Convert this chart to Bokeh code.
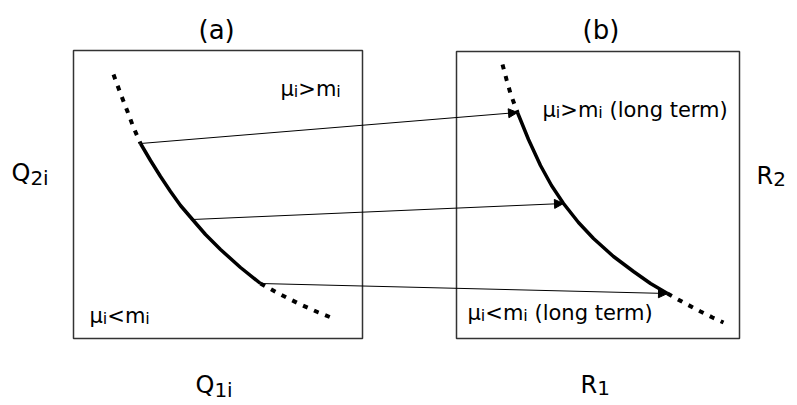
from bokeh.plotting import figure
from bokeh.models import Range1d, ColumnDataSource, Arrow, NormalHead
from bokeh.core.properties import value, field
from bokeh.embed import file_html
from bokeh.resources import INLINE

W, H = 797, 405

# ---- data (diagram coordinates, y grows downward) ----
box_left = [73, 456]
box_right = [362, 739]
box_top = [50, 51]
box_bottom = [338, 338]

# curve in panel (a): dotted upper part, solid part, dotted lower part
a_dot1_x = [113, 120, 127, 133, 140]
a_dot1_y = [74, 93, 111, 127, 143]
a_sol_x = [140, 150, 160, 170, 180, 192, 205, 220, 240, 260]
a_sol_y = [143, 160, 176, 191, 205, 219, 234, 249, 267, 283]
a_dot2_x = [260, 280, 300, 318, 333]
a_dot2_y = [283, 294, 304, 312, 318]

# curve in panel (b)
b_dot1_x = [502, 506, 510, 514, 517]
b_dot1_y = [64, 79, 93, 104, 112]
b_sol_x = [517, 528, 540, 551, 563, 578, 593, 613, 633, 650, 667]
b_sol_y = [112, 139, 165, 185, 203, 222, 238, 256, 271, 283, 293]
b_dot2_x = [667, 683, 700, 712, 723]
b_dot2_y = [293, 302, 311, 317, 322]

# mapping arrows from (a) to (b)
arr_x0 = [140, 192, 260]
arr_y0 = [143, 219, 283]
arr_x1 = [517, 563, 667]
arr_y1 = [112, 203, 293]

# texts: list of (text, is_subscript)
panel_titles = ["(a)", "(b)"]
axis_labels = [
    [("Q", 0), ("2i", 1)],
    [("R", 0), ("2", 1)],
    [("Q", 0), ("1i", 1)],
    [("R", 0), ("1", 1)],
]
inner_labels = [
    [("μ", 0), ("i", 1), (">m", 0), ("i", 1)],
    [("μ", 0), ("i", 1), ("<m", 0), ("i", 1)],
    [("μ", 0), ("i", 1), (">m", 0), ("i", 1), (" (long term)", 0)],
    [("μ", 0), ("i", 1), ("<m", 0), ("i", 1), (" (long term)", 0)],
]

# ---- layout of texts ----
title_pos = [(198, 29), (582, 29)]
axis_pos = [(11, 172), (756, 175), (195, 384), (580, 384)]
inner_pos = [(280, 88), (89, 315), (542, 109), (467, 312)]

ADV = {'μ': 0.635, 'i': 0.278, '>': 0.838, '<': 0.838, 'm': 0.974, ' ': 0.318,
       '(': 0.390, ')': 0.390, 'l': 0.278, 'o': 0.612, 'n': 0.634, 'g': 0.635,
       't': 0.392, 'e': 0.615, 'r': 0.411, 'Q': 0.787, 'R': 0.695, '1': 0.636,
       '2': 0.636, 'a': 0.613, 'b': 0.635}


def width(s, size):
    return sum(ADV.get(c, 0.6) for c in s) * size


tx, ty, tt, ts = [], [], [], []


def add_pieces(x0, y0, segs, main, sub, off):
    x = x0
    for s, is_sub in segs:
        sz = sub if is_sub else main
        lead = len(s) - len(s.lstrip(" "))
        x += width(s[:lead], sz)
        s = s.lstrip(" ")
        tx.append(x)
        ty.append(y0 + (off if is_sub else 0))
        tt.append(s)
        ts.append(f"{sz}px")
        x += width(s, sz)


for (x0, y0), t in zip(title_pos, panel_titles):
    add_pieces(x0, y0, [(t, 0)], 26, 26, 0)
for i, ((x0, y0), segs) in enumerate(zip(axis_pos, axis_labels)):
    add_pieces(x0, y0, segs, 24, 20, 5 if i in (0, 2) else 3)
for (x0, y0), segs in zip(inner_pos, inner_labels):
    add_pieces(x0, y0, segs, 21, 16, 3)

# ---- figure ----
p = figure(width=W, height=H, x_range=Range1d(0, W), y_range=Range1d(H, 0),
           x_axis_type=None, y_axis_type=None, output_backend="svg",
           toolbar_location=None, min_border=0)
p.grid.visible = False
p.outline_line_color = None
p.background_fill_color = "white"
p.border_fill_color = "white"

p.quad(left=box_left, right=box_right, top=box_top, bottom=box_bottom,
       fill_color=None, line_color="#333333", line_width=1.5)

for xs, ys in [(a_dot1_x, a_dot1_y), (a_dot2_x, a_dot2_y), (b_dot1_x, b_dot1_y), (b_dot2_x, b_dot2_y)]:
    p.line(xs, ys, line_color="black", line_width=4, line_dash="5 7", line_cap="butt")
for xs, ys in [(a_sol_x, a_sol_y), (b_sol_x, b_sol_y)]:
    p.line(xs, ys, line_color="black", line_width=3.5, line_join="round", line_cap="butt")

arr_src = ColumnDataSource(dict(x0=arr_x0, y0=arr_y0, x1=arr_x1, y1=arr_y1))
p.add_layout(Arrow(end=NormalHead(size=9, fill_color="black", line_color="black", line_width=1),
                   x_start="x0", y_start="y0", x_end="x1", y_end="y1",
                   source=arr_src, line_color="black", line_width=1))

txt_src = ColumnDataSource(dict(x=tx, y=ty, text=tt, size=ts))
p.text(x="x", y="y", text="text", source=txt_src, text_font=value("DejaVu Sans"),
       text_font_size=field("size"), text_baseline="alphabetic", text_align="left",
       text_color="black")

open("out.html", "w").write(file_html(p, INLINE))
